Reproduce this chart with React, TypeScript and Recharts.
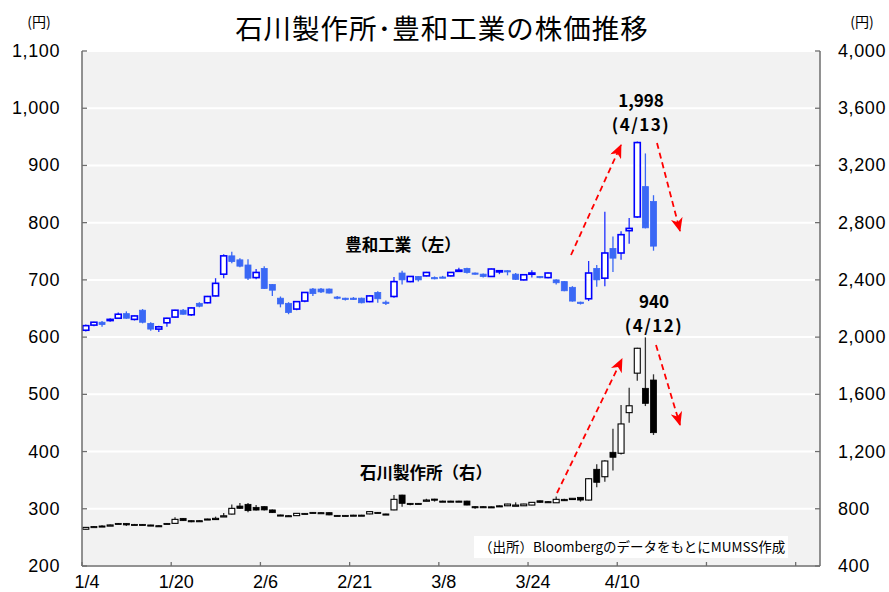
import { ComposedChart, Bar, XAxis, YAxis, CartesianGrid } from "recharts";

// trading days shown on the category axis (blank slots after the last day)
const dates = [
  "1/4", "1/5", "1/6", "1/10", "1/11", "1/12", "1/13", "1/16", "1/17", "1/18",
  "1/19", "1/20", "1/23", "1/24", "1/25", "1/26", "1/27", "1/30", "1/31", "2/1",
  "2/2", "2/3", "2/6", "2/7", "2/8", "2/9", "2/10", "2/13", "2/14", "2/15",
  "2/16", "2/17", "2/20", "2/21", "2/22", "2/23", "2/24", "2/27", "2/28", "3/1",
  "3/2", "3/3", "3/6", "3/7", "3/8", "3/9", "3/10", "3/13", "3/14", "3/15",
  "3/16", "3/17", "3/20", "3/22", "3/23", "3/24", "3/27", "3/28", "3/29", "3/30",
  "3/31", "4/3", "4/4", "4/5", "4/6", "4/7", "4/10", "4/11", "4/12", "4/13",
  "4/14",
];
const blankSlots = 20;

// 豊和工業 (left axis)
const howaOpen = [
  612, 621, 626, 630, 633, 641, 631, 647, 624, 614, 625, 635, 647, 639, 659, 660, 672, 710, 742, 735,
  726, 704, 720, 692, 668, 659, 649, 663, 684, 684, 684, 670, 668, 668, 668, 662, 678, 661, 671, 712,
  697, 706, 707, 704, 705, 707, 717, 720, 712, 710, 706, 716, 716, 710, 700, 712, 706, 704, 700, 697,
  687, 661, 667, 720, 703, 755, 747, 786, 810, 863, 837,
];
const howaHigh = [
  622, 627, 628, 633, 643, 645, 638, 649, 626, 620, 634, 648, 649, 652, 661, 672, 703, 745, 749, 738,
  736, 719, 724, 693, 671, 661, 663, 679, 686, 686, 685, 672, 669, 670, 669, 673, 680, 664, 705, 716,
  707, 707, 714, 706, 707, 714, 721, 721, 713, 711, 720, 717, 717, 712, 710, 717, 707, 713, 701, 698,
  689, 662, 733, 726, 819, 776, 785, 808, 942, 921, 848,
];
const howaLow = [
  610, 619, 618, 627, 632, 632, 629, 624, 611, 609, 618, 634, 639, 637, 652, 659, 671, 703, 729, 722,
  700, 701, 684, 672, 652, 640, 647, 661, 672, 677, 676, 666, 664, 665, 659, 661, 660, 656, 669, 692,
  696, 697, 706, 701, 703, 706, 714, 711, 709, 704, 705, 710, 708, 700, 699, 704, 703, 703, 692, 680,
  662, 657, 663, 688, 689, 714, 735, 763, 808, 790, 751,
];
const howaClose = [
  620, 626, 622, 631, 640, 633, 637, 626, 614, 618, 633, 647, 640, 651, 654, 671, 694, 742, 732, 724,
  703, 713, 685, 682, 658, 643, 662, 678, 676, 679, 677, 668, 667, 667, 660, 672, 667, 660, 697, 700,
  706, 700, 713, 703, 704, 713, 717, 713, 711, 706, 719, 716, 715, 701, 709, 712, 705, 712, 695, 681,
  663, 659, 712, 700, 747, 738, 779, 790, 940, 791, 759,
];

// 石川製作所 (right axis)
const ishiOpen = [
  657, 676, 680, 687, 698, 698, 691, 691, 687, 682, 698, 698, 733, 717, 717, 729, 733, 750, 763, 819,
  831, 810, 815, 792, 757, 752, 752, 768, 775, 773, 773, 754, 754, 756, 756, 764, 775, 764, 792, 896,
  838, 838, 861, 868, 854, 854, 854, 854, 815, 815, 814, 821, 821, 826, 821, 826, 856, 850, 842, 866,
  866, 880, 861, 1076, 1024, 1195, 1188, 1472, 1748, 1642, 1700,
];
const ishiHigh = [
  672, 680, 684, 690, 701, 700, 694, 693, 689, 684, 700, 740, 736, 719, 720, 731, 745, 770, 830, 840,
  840, 827, 818, 795, 759, 755, 770, 771, 778, 776, 775, 757, 756, 758, 758, 782, 778, 766, 896, 898,
  840, 840, 870, 870, 857, 856, 856, 856, 817, 817, 816, 823, 835, 845, 835, 847, 858, 852, 885, 870,
  875, 882, 1015, 1111, 1140, 1360, 1525, 1646, 1925, 1998, 1740,
];
const ishiLow = [
  655, 672, 676, 684, 694, 680, 688, 688, 684, 679, 695, 697, 715, 705, 714, 726, 722, 746, 760, 800,
  775, 788, 788, 770, 752, 748, 750, 765, 772, 770, 754, 751, 751, 753, 753, 762, 772, 760, 790, 815,
  825, 835, 852, 850, 851, 851, 851, 824, 800, 811, 810, 818, 819, 824, 819, 824, 843, 847, 840, 855,
  864, 850, 858, 950, 989, 1068, 1180, 1402, 1695, 1518, 1316,
];
const ishiClose = [
  670, 675, 679, 687, 697, 687, 690, 690, 686, 681, 697, 726, 717, 716, 716, 728, 733, 751, 803, 803,
  787, 791, 792, 773, 755, 751, 768, 767, 774, 772, 757, 753, 753, 755, 755, 780, 774, 763, 866, 838,
  837, 837, 861, 867, 853, 853, 853, 826, 814, 814, 813, 820, 833, 826, 833, 845, 845, 849, 866, 856,
  873, 861, 1010, 985, 1134, 1160, 1393, 1520, 1922, 1537, 1332,
];

const leftTicks = [200, 300, 400, 500, 600, 700, 800, 900, 1000, 1100];
const rightTicks = [400, 800, 1200, 1600, 2000, 2400, 2800, 3200, 3600, 4000];

const data = [
  ...dates.map((date, i) => ({
    date,
    hO: howaOpen[i], hH: howaHigh[i], hL: howaLow[i], hC: howaClose[i],
    iO: ishiOpen[i], iH: ishiHigh[i], iL: ishiLow[i], iC: ishiClose[i],
  })),
  ...Array.from({ length: blankSlots }, () => ({ date: "" })),
];

const W = 889;
const H = 592;
const PLOT_LEFT = 82;
const PLOT_RIGHT = 820;
const PLOT_TOP = 51;
const PLOT_BOTTOM = 566;
const SLOT = (PLOT_RIGHT - PLOT_LEFT) / data.length;
const AXIS = "#6e6e6e";
const NUM_FONT = "'Liberation Sans', Arial, sans-serif";
const JP_FONT = "'Noto Sans CJK JP', 'Noto Sans', sans-serif";

const fmt = (v: number) => v.toLocaleString("en-US");

const makeCandle = (
  keys: { o: string; h: string; l: string; c: string },
  look: { upStroke: string; downFill: string; wick: string; upWick: string; sw: number }
) => (props: any) => {
  const { x, y, width, height, payload } = props;
  if (payload[keys.h] == null) return <g />;
  const o = payload[keys.o];
  const hi = payload[keys.h];
  const lo = payload[keys.l];
  const c = payload[keys.c];
  const top = Math.min(y, y + height);
  const bot = Math.max(y, y + height);
  const py = (v: number) => bot - ((v - lo) / (hi - lo)) * (bot - top);
  const cx = x + width / 2;
  const bw = 6;
  const up = c >= o;
  const yo = py(o);
  const yc = py(c);
  const bt = Math.min(yo, yc);
  const bh = Math.max(Math.abs(yo - yc), 1.2);
  return (
    <g>
      <line x1={cx} x2={cx} y1={top} y2={bot} stroke={up ? look.upWick : look.wick} strokeWidth={1.3} />
      {up ? (
        <rect x={cx - bw / 2} y={bt} width={bw} height={bh} fill="#fff" stroke={look.upStroke} strokeWidth={look.sw} />
      ) : (
        <rect x={cx - bw / 2} y={bt} width={bw} height={bh} fill={look.downFill} stroke={look.downFill} strokeWidth={0.8} />
      )}
    </g>
  );
};

const HowaCandle = makeCandle(
  { o: "hO", h: "hH", l: "hL", c: "hC" },
  { upStroke: "#0000ff", downFill: "#3a68f5", wick: "#3a68f5", upWick: "#2030ff", sw: 1.6 }
);
const IshiCandle = makeCandle(
  { o: "iO", h: "iH", l: "iL", c: "iC" },
  { upStroke: "#000", downFill: "#000", wick: "#333", upWick: "#333", sw: 1.1 }
);

const XTick = (props: any) => {
  const { x, y, payload, index } = props;
  if (index % 11 !== 0) return <g />;
  const tx = x - SLOT / 2;
  return (
    <g>
      <line x1={tx} x2={tx} y1={y} y2={y - 4} stroke={AXIS} strokeWidth={1.3} />
      {payload.value ? (
        <text x={x + 1} y={y + 22} textAnchor="middle" fontSize={18} fontFamily={NUM_FONT} fill="#000">
          {payload.value}
        </text>
      ) : null}
    </g>
  );
};

const LeftTick = (props: any) => {
  const { x, y, payload } = props;
  return (
    <g>
      <line x1={PLOT_LEFT} x2={PLOT_LEFT + 5} y1={y} y2={y} stroke={AXIS} strokeWidth={1.3} />
      <text x={x} y={y + 6} textAnchor="end" fontSize={18} fontFamily={NUM_FONT} letterSpacing={0.6} fill="#000">
        {fmt(payload.value)}
      </text>
    </g>
  );
};

const RightTick = (props: any) => {
  const { x, y, payload } = props;
  return (
    <g>
      <line x1={PLOT_RIGHT} x2={PLOT_RIGHT - 5} y1={y} y2={y} stroke={AXIS} strokeWidth={1.3} />
      <text x={x} y={y + 6} textAnchor="start" fontSize={18} fontFamily={NUM_FONT} letterSpacing={0.6} fill="#000">
        {fmt(payload.value)}
      </text>
    </g>
  );
};

const Arrow = ({ x1, y1, x2, y2 }: { x1: number; y1: number; x2: number; y2: number }) => (
  <line x1={x1} y1={y1} x2={x2} y2={y2} stroke="#ff0000" strokeWidth={1.8} strokeDasharray="6 4" markerEnd="url(#redHead)" />
);

export default function App() {
  return (
    <div style={{ position: "absolute", left: 0, top: 0, width: W, height: H, background: "#fff" }}>
      <ComposedChart width={W} height={H} data={data} margin={{ top: PLOT_TOP, right: 0, bottom: 0, left: 0 }}>
        <CartesianGrid
          xAxisId="main"
          yAxisId="left"
          vertical={false}
          fill="#f2f2f2"
          stroke="#ffffff"
          strokeWidth={2}
        />
        <XAxis
          xAxisId="main"
          dataKey="date"
          interval={0}
          height={H - PLOT_BOTTOM}
          tickSize={0}
          tickMargin={0}
          tick={XTick}
          axisLine={{ stroke: AXIS, strokeWidth: 1.5 }}
          tickLine={false}
        />
        <XAxis xAxisId="second" dataKey="date" hide />
        <YAxis
          yAxisId="left"
          orientation="left"
          width={PLOT_LEFT}
          domain={[200, 1100]}
          ticks={leftTicks}
          interval={0}
          allowDataOverflow
          tickSize={0}
          tickMargin={22}
          tick={LeftTick}
          axisLine={{ stroke: AXIS, strokeWidth: 1.5 }}
          tickLine={false}
        />
        <YAxis
          yAxisId="right"
          orientation="right"
          width={W - PLOT_RIGHT}
          domain={[400, 4000]}
          ticks={rightTicks}
          interval={0}
          allowDataOverflow
          tickSize={0}
          tickMargin={18}
          tick={RightTick}
          axisLine={{ stroke: AXIS, strokeWidth: 1.5 }}
          tickLine={false}
        />
        <Bar
          xAxisId="second"
          yAxisId="right"
          dataKey={(d: any) => (d.iH == null ? null : [d.iL, d.iH])}
          shape={IshiCandle}
          isAnimationActive={false}
        />
        <Bar
          xAxisId="main"
          yAxisId="left"
          dataKey={(d: any) => (d.hH == null ? null : [d.hL, d.hH])}
          shape={HowaCandle}
          isAnimationActive={false}
        />
      </ComposedChart>

      <svg
        width={W}
        height={H}
        style={{ position: "absolute", left: 0, top: 0, pointerEvents: "none" }}
      >
        <defs>
          <marker id="redHead" markerUnits="userSpaceOnUse" markerWidth={14} markerHeight={12} refX={13} refY={6} orient="auto">
            <path d="M0,0 L14,6 L0,12 L4,6 Z" fill="#ff0000" />
          </marker>
        </defs>
        <text x={442} y={39} textAnchor="middle" fontSize={27.5} letterSpacing={1} fontFamily={JP_FONT} fill="#000">
          石川製作所･豊和工業の株価推移
        </text>
        <text x={39} y={27} textAnchor="middle" fontSize={14} fontFamily={JP_FONT} fill="#000">(円)</text>
        <text x={862} y={27} textAnchor="middle" fontSize={14} fontFamily={JP_FONT} fill="#000">(円)</text>

        <Arrow x1={571} y1={255} x2={621} y2={145} />
        <Arrow x1={657} y1={143} x2={680} y2={231} />
        <Arrow x1={557} y1={493} x2={622} y2={359} />
        <Arrow x1={656} y1={345} x2={680} y2={425} />

        <g fontFamily={JP_FONT} fontWeight="bold" fill="#000" textAnchor="middle" fontSize={17}>
          <text x={641} y={107}>1,998</text>
          <text x={641} y={131} letterSpacing={1.5}>(4/13)</text>
          <text x={654} y={308}>940</text>
          <text x={654} y={332} letterSpacing={1.5}>(4/12)</text>
          <text x={403} y={251} fontSize={16.5}>豊和工業（左）</text>
          <text x={426} y={479} fontSize={16.5}>石川製作所（右）</text>
        </g>

        <rect x={474} y={536} width={314} height={22} fill="#fff" />
        <text x={479} y={552} fontSize={13.5} fontFamily={JP_FONT} fill="#000">
          （出所）BloombergのデータをもとにMUMSS作成
        </text>
      </svg>
    </div>
  );
}
